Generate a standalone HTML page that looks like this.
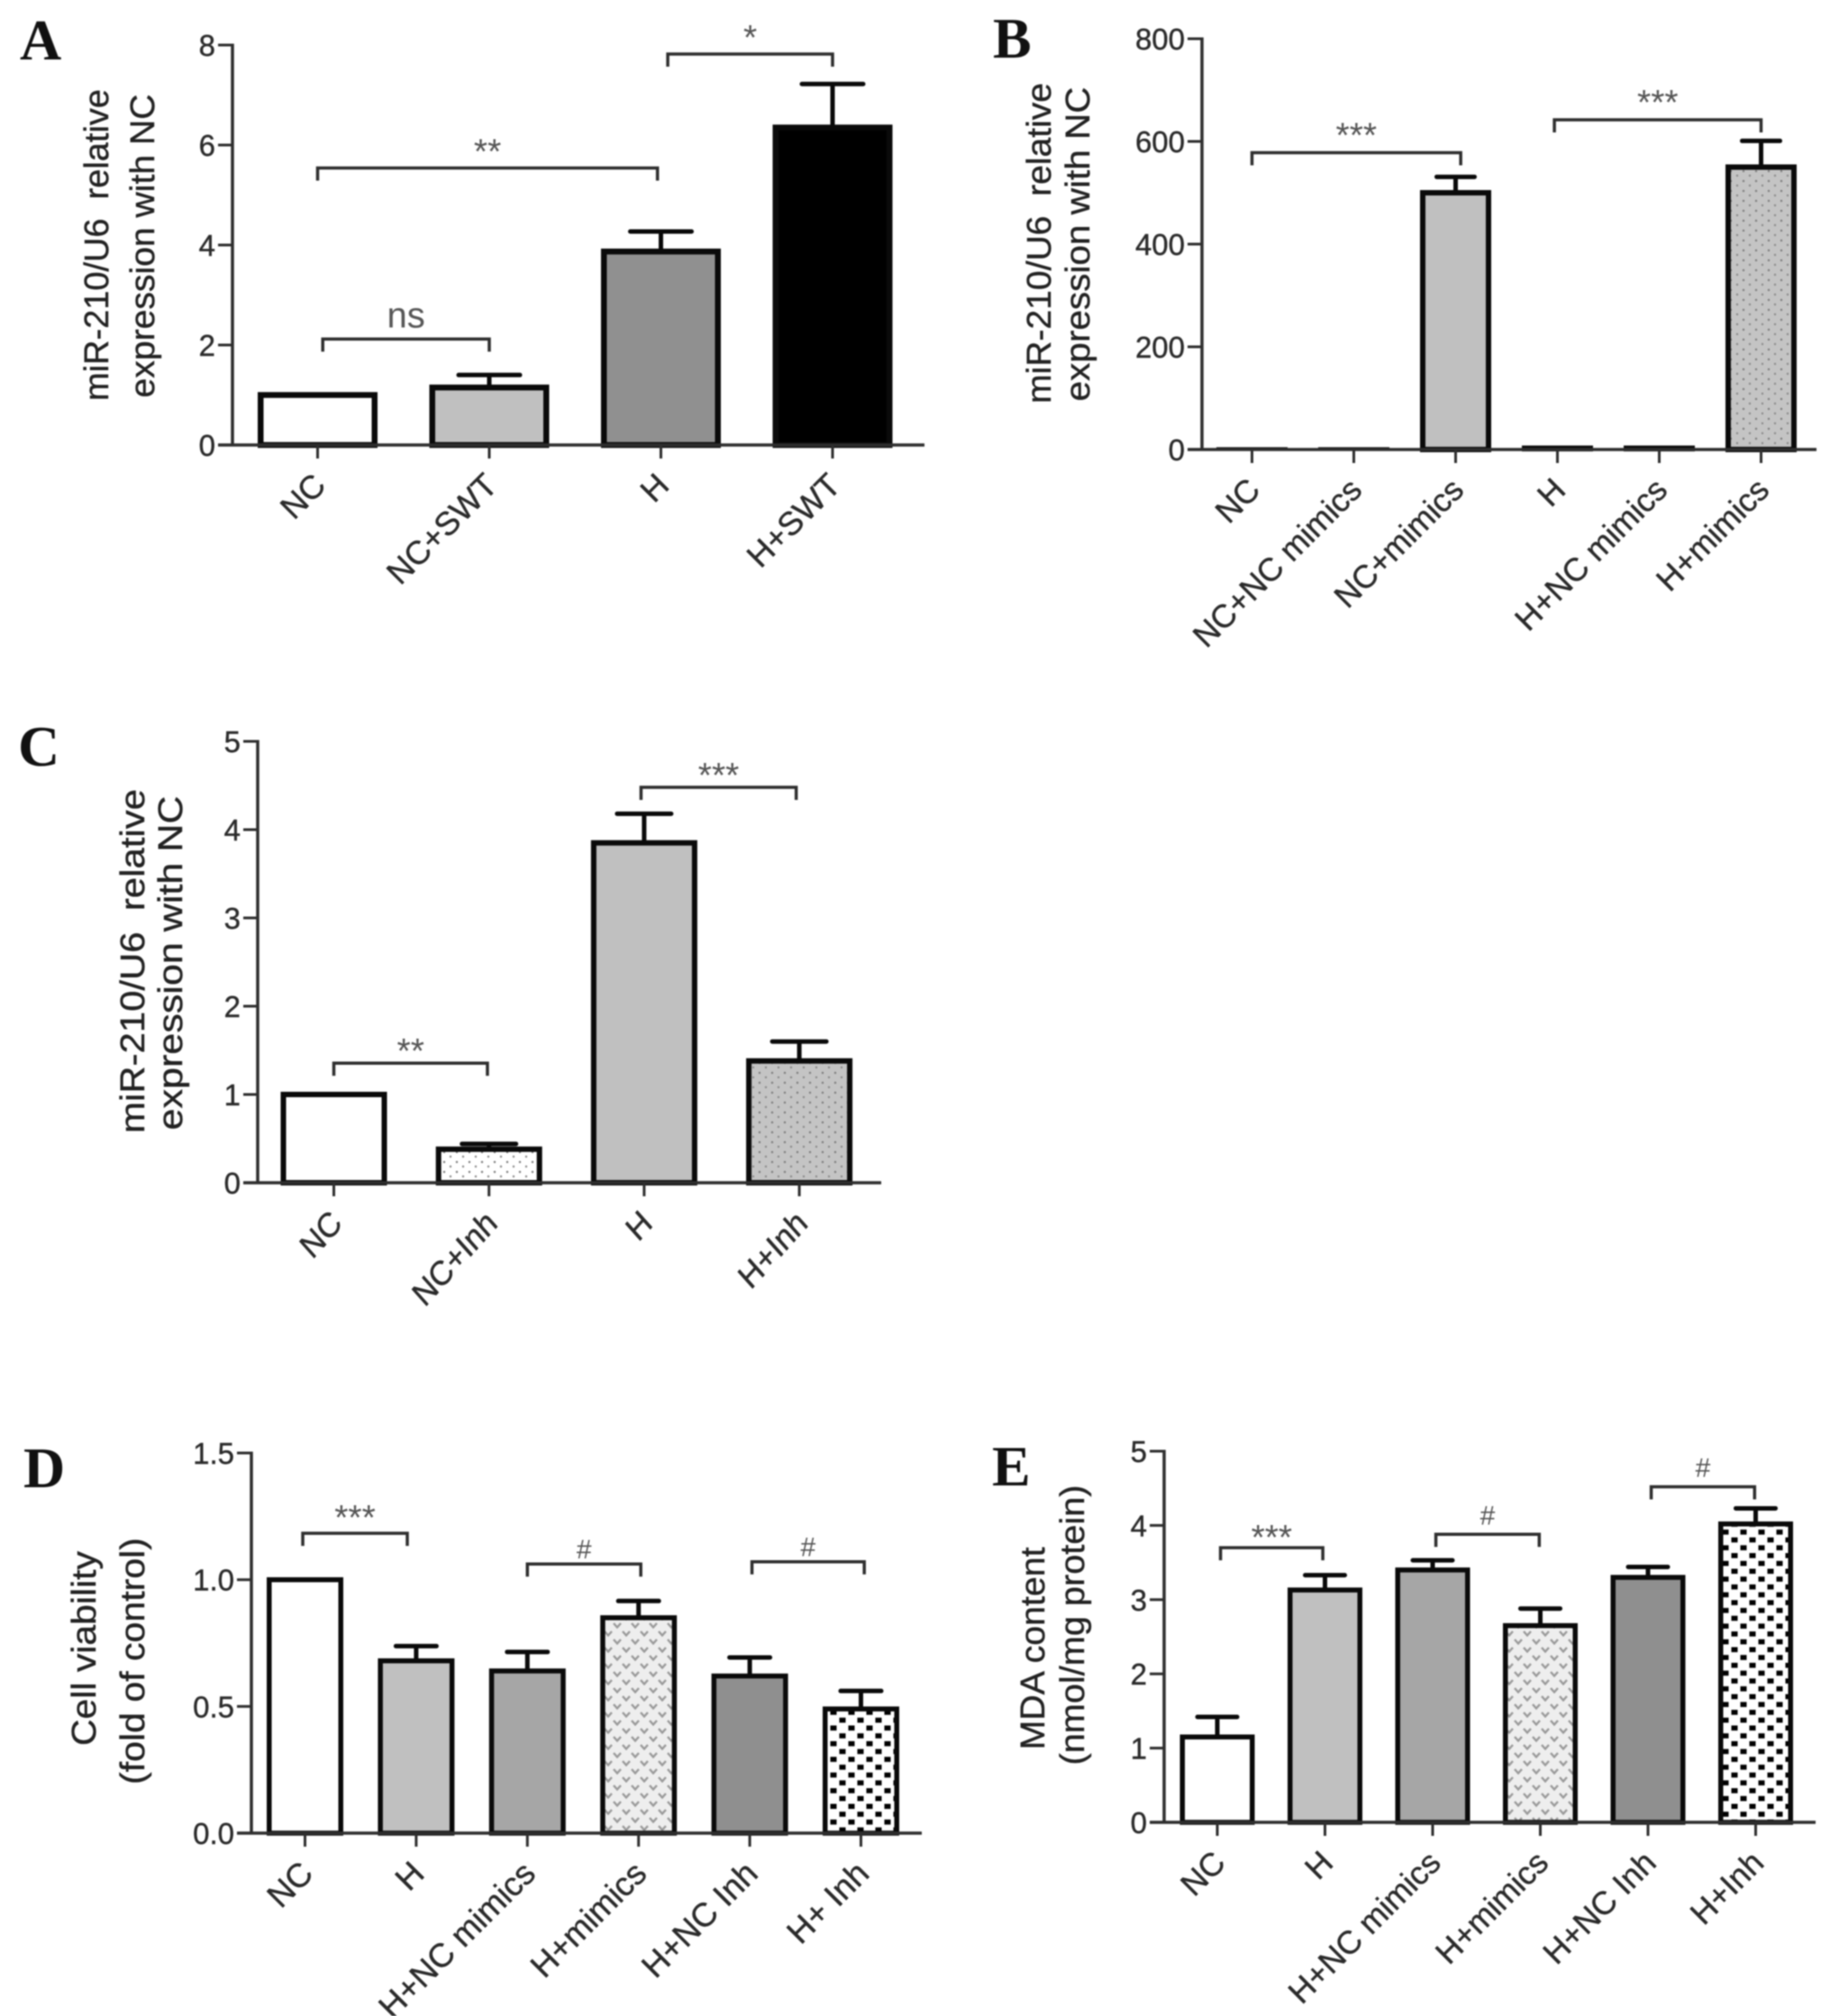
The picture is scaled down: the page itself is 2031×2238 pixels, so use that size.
<!DOCTYPE html>
<html lang="en">
<head>
<meta charset="utf-8">
<title>miR-210 expression, cell viability and MDA content bar charts</title>
<style>
html,body{margin:0;padding:0;background:#fff;}
#figure{display:block;width:2031px;height:2238px;filter:blur(0.7px);font-family:"Liberation Sans",sans-serif;}
.panel-letter{font-family:"Liberation Serif",serif;font-weight:bold;font-size:64px;fill:#111;}
.y-title{font-family:"Liberation Sans",sans-serif;font-size:38px;fill:#222;stroke:#222;stroke-width:0.4px;}
</style>
</head>
<body>
<svg id="figure" xmlns="http://www.w3.org/2000/svg" width="2031" height="2238" viewBox="0 0 2031 2238">
  <defs>
    <pattern id="dots-gray" width="14" height="11" patternUnits="userSpaceOnUse">
      <rect width="14" height="11" fill="#c4c4c4"/>
      <circle cx="3" cy="3" r="1.2" fill="#7a7a7a"/>
      <circle cx="10" cy="8" r="1.2" fill="#8a8a8a"/>
    </pattern>
    <pattern id="dots-white" width="14" height="11" patternUnits="userSpaceOnUse">
      <rect width="14" height="11" fill="#ffffff"/>
      <circle cx="3" cy="3" r="1.2" fill="#777"/>
      <circle cx="10" cy="8" r="1.2" fill="#888"/>
    </pattern>
    <pattern id="chevrons" width="20" height="18" patternUnits="userSpaceOnUse">
      <rect width="20" height="18" fill="#eeeeee"/>
      <path d="M1 2 L5 6.5 L9 2 M11 11 L15 15.5 L19 11" fill="none" stroke="#999" stroke-width="2.4"/>
    </pattern>
    <pattern id="checker" width="20" height="17.4" patternUnits="userSpaceOnUse">
      <rect width="20" height="17.4" fill="#fff"/>
      <rect x="1.5" y="1.5" width="7" height="5.6" fill="#000"/>
      <rect x="11.5" y="10.2" width="7" height="5.6" fill="#000"/>
    </pattern>
  </defs>

  <g id="panel-a">
    <text class="panel-letter" x="22" y="66">A</text>
    <text class="y-title" transform="translate(120,272) rotate(-90)" text-anchor="middle" textLength="346" lengthAdjust="spacingAndGlyphs" xml:space="preserve">miR-210/U6  relative</text>
    <text class="y-title" transform="translate(171,273) rotate(-90)" text-anchor="middle" textLength="337" lengthAdjust="spacingAndGlyphs">expression with NC</text>
  </g>
  <g id="panel-b">
    <text class="panel-letter" x="1102" y="64">B</text>
    <text class="y-title" transform="translate(1166,270) rotate(-90)" text-anchor="middle" textLength="356" lengthAdjust="spacingAndGlyphs" xml:space="preserve">miR-210/U6  relative</text>
    <text class="y-title" transform="translate(1209,271) rotate(-90)" text-anchor="middle" textLength="349" lengthAdjust="spacingAndGlyphs">expression with NC</text>
  </g>
  <g id="panel-c">
    <text class="panel-letter" x="20" y="850">C</text>
    <text class="y-title" transform="translate(160,1067) rotate(-90)" text-anchor="middle" textLength="382" lengthAdjust="spacingAndGlyphs" xml:space="preserve">miR-210/U6  relative</text>
    <text class="y-title" transform="translate(202,1069) rotate(-90)" text-anchor="middle" textLength="371" lengthAdjust="spacingAndGlyphs">expression with NC</text>
  </g>
  <g id="panel-d">
    <text class="panel-letter" x="26" y="1651">D</text>
    <text class="y-title" transform="translate(106,1830) rotate(-90)" text-anchor="middle" textLength="216" lengthAdjust="spacingAndGlyphs">Cell viability</text>
    <text class="y-title" transform="translate(160,1844) rotate(-90)" text-anchor="middle" textLength="274" lengthAdjust="spacingAndGlyphs">(fold of control)</text>
  </g>
  <g id="panel-e">
    <text class="panel-letter" x="1101" y="1649">E</text>
    <text class="y-title" transform="translate(1159,1830) rotate(-90)" text-anchor="middle" textLength="225" lengthAdjust="spacingAndGlyphs">MDA content</text>
    <text class="y-title" transform="translate(1203,1804) rotate(-90)" text-anchor="middle" textLength="311" lengthAdjust="spacingAndGlyphs">(nmol/mg protein)</text>
  </g>
</svg>

<script>
// ---- Panel A data ----
const aCategories = ['NC', 'NC+SWT', 'H', 'H+SWT'];
const aValues = [1, 1.15, 3.87, 6.35];
const aErrorTops = [1, 1.4, 4.27, 7.22];
const aYTicks = ['0', '2', '4', '6', '8'];
const aBracketFrom = [0.03, 0, 2.04];
const aBracketTo = [1, 1.98, 3];
const aBracketLevels = [2.12, 5.54, 7.82];
const aBracketLabels = ['ns', '**', '*'];

// ---- Panel B data ----
const bCategories = ['NC', 'NC+NC mimics', 'NC+mimics', 'H', 'H+NC mimics', 'H+mimics'];
const bValues = [2, 2, 500, 4, 4, 550];
const bErrorTops = [2, 2, 531, 4, 4, 601];
const bYTicks = ['0', '200', '400', '600', '800'];
const bBracketFrom = [0, 2.97];
const bBracketTo = [2.05, 5];
const bBracketLevels = [578, 642];
const bBracketLabels = ['***', '***'];

// ---- Panel C data ----
const cCategories = ['NC', 'NC+Inh', 'H', 'H+Inh'];
const cValues = [1, 0.38, 3.85, 1.38];
const cErrorTops = [1, 0.44, 4.18, 1.6];
const cYTicks = ['0', '1', '2', '3', '4', '5'];
const cBracketFrom = [0, 1.98];
const cBracketTo = [0.99, 2.98];
const cBracketLevels = [1.355, 4.48];
const cBracketLabels = ['**', '***'];

// ---- Panel D data ----
const dCategories = ['NC', 'H', 'H+NC mimics', 'H+mimics', 'H+NC Inh', 'H+ Inh'];
const dValues = [1, 0.68, 0.64, 0.85, 0.62, 0.49];
const dErrorTops = [1, 0.738, 0.715, 0.916, 0.693, 0.561];
const dYTicks = ['0.0', '0.5', '1.0', '1.5'];
const dBracketFrom = [-0.02, 2, 4.02];
const dBracketTo = [0.92, 3.02, 5.03];
const dBracketLevels = [1.183, 1.062, 1.071];
const dBracketLabels = ['***', '#', '#'];

// ---- Panel E data ----
const eCategories = ['NC', 'H', 'H+NC mimics', 'H+mimics', 'H+NC Inh', 'H+Inh'];
const eValues = [1.15, 3.13, 3.4, 2.65, 3.3, 4.02];
const eErrorTops = [1.42, 3.33, 3.53, 2.88, 3.44, 4.23];
const eYTicks = ['0', '1', '2', '3', '4', '5'];
const eBracketFrom = [0.03, 2.03, 4.03];
const eBracketTo = [0.98, 2.99, 4.99];
const eBracketLevels = [3.7, 3.88, 4.52];
const eBracketLabels = ['***', '#', '#'];

const SVGNS = 'http://www.w3.org/2000/svg';

function make(parent, tag, attrs, text) {
  const el = document.createElementNS(SVGNS, tag);
  for (const k in attrs) el.setAttribute(k, attrs[k]);
  if (text !== undefined) el.textContent = text;
  parent.appendChild(el);
  return el;
}

function drawPanel(p) {
  const root = document.getElementById(p.id);
  const yMax = parseFloat(p.yTicks[p.yTicks.length - 1]);
  const yScale = v => p.y0 - (v / yMax) * (p.y0 - p.yTop);
  const xScale = i => p.x0 + i * p.step;
  const AXIS = '#2e2e2e';
  const INK = '#2a2a2a';

  // error bars (drawn first so the bar outline sits over the stem)
  p.errorTops.forEach((top, i) => {
    if (top <= p.values[i]) return;
    const cx = xScale(i);
    const stem = make(root, 'line', {x1: cx, x2: cx, y1: yScale(p.values[i]), y2: yScale(top), stroke: '#0a0a0a', 'stroke-width': 5});
    
    
    const cap = make(root, 'line', {x1: cx - p.cap / 2, x2: cx + p.cap / 2, y1: yScale(top), y2: yScale(top), stroke: '#0a0a0a', 'stroke-width': 5, 'stroke-linecap': 'round'});
    
    
  });

  // bars
  p.values.forEach((v, i) => {
    const cx = xScale(i);
    const h = Math.max(0, p.y0 - yScale(v));
    const sw = Math.min(p.barStroke, 1.5 + h * 1.2);
    const bar = make(root, 'rect', {
      x: cx - p.barWidth / 2 + sw / 2,
      y: yScale(v),
      width: p.barWidth - sw,
      height: h,
      fill: p.fills[i],
      stroke: '#0a0a0a',
      'stroke-width': sw
    });
    
    
  });

  // y axis
  const yAxis = make(root, 'line', {x1: p.x, x2: p.x, y1: p.yTop - 1.5, y2: p.y0 + 1.5, stroke: AXIS, 'stroke-width': 3.5});
  
  
  p.yTicks.forEach(label => {
    const y = yScale(parseFloat(label));
    const tick = make(root, 'line', {x1: p.x - 16, x2: p.x, y1: y, y2: y, stroke: AXIS, 'stroke-width': 3});
    
    
    const t = make(root, 'text', {x: p.x - 19, y: y + 12, 'text-anchor': 'end', 'font-size': 33, fill: INK, stroke: INK, 'stroke-width': 0.4}, label);
    
    
  });

  // x axis
  const xAxis = make(root, 'line', {x1: p.x - 16, x2: p.xEnd, y1: p.y0, y2: p.y0, stroke: AXIS, 'stroke-width': 3.5});
  
  
  p.categories.forEach((c, i) => {
    const cx = xScale(i);
    const tick = make(root, 'line', {x1: cx, x2: cx, y1: p.y0, y2: p.y0 + 15, stroke: AXIS, 'stroke-width': 3});
    
    
    const lx = cx + 11, ly = p.y0 + 47;
    const attrs = {
      transform: 'translate(' + lx + ',' + ly + ') scale(1,' + (p.tickStretch || 1) + ') rotate(-45)',
      'text-anchor': 'end', 'font-size': p.tickFont, fill: INK, stroke: INK, 'stroke-width': 0.4
    };
    const t = make(root, 'text', attrs, c);
    
    
  });

  // significance brackets
  p.bracketLabels.forEach((label, i) => {
    const x1 = xScale(p.bracketFrom[i]);
    const x2 = xScale(p.bracketTo[i]);
    const y = yScale(p.bracketLevels[i]);
    const bracket = make(root, 'path', {d: 'M' + x1 + ' ' + (y + 14) + ' V' + y + ' H' + x2 + ' V' + (y + 14), fill: 'none', stroke: '#2e2e2e', 'stroke-width': 3.5});
    
    
    const mid = (x1 + x2) / 2;
    let size, by;
    if (label === 'ns') { size = 40; by = y - 13; }
    else if (label === '#') { size = 30; by = y - p.hashGap + 10; }
    else { size = 39; by = y - p.starGap + 22; }
    const t = make(root, 'text', {x: mid, y: by, 'text-anchor': 'middle', 'font-size': size, fill: '#555'}, label);
    
    
  });
}

drawPanel({
  id: 'panel-a', x: 258, xEnd: 1026, y0: 494, yTop: 50, x0: 352.5, step: 190.5,
  barWidth: 133, barStroke: 6.5, cap: 68, tickFont: 36.5, starGap: 27, hashGap: 18,
  categories: aCategories, values: aValues, errorTops: aErrorTops, yTicks: aYTicks,
  bracketFrom: aBracketFrom, bracketTo: aBracketTo, bracketLevels: aBracketLevels, bracketLabels: aBracketLabels,
  fills: ['#ffffff', '#c0c0c0', '#909090', '#000000']
});
drawPanel({
  id: 'panel-b', x: 1334, xEnd: 2016, y0: 499, yTop: 43, x0: 1389.5, step: 113,
  barWidth: 79, barStroke: 6, cap: 42, tickFont: 36, starGap: 28, hashGap: 18,
  categories: bCategories, values: bValues, errorTops: bErrorTops, yTicks: bYTicks,
  bracketFrom: bBracketFrom, bracketTo: bBracketTo, bracketLevels: bBracketLevels, bracketLabels: bBracketLabels,
  fills: ['#ffffff', '#ffffff', '#c0c0c0', '#ffffff', '#ffffff', 'url(#dots-gray)']
});
drawPanel({
  id: 'panel-c', x: 286, xEnd: 978, y0: 1313, yTop: 823, x0: 370.5, step: 172.2,
  barWidth: 118, barStroke: 6, cap: 60, tickFont: 34, tickStretch: 1.12, starGap: 22, hashGap: 18,
  categories: cCategories, values: cValues, errorTops: cErrorTops, yTicks: cYTicks,
  bracketFrom: cBracketFrom, bracketTo: cBracketTo, bracketLevels: cBracketLevels, bracketLabels: cBracketLabels,
  fills: ['#ffffff', 'url(#dots-white)', '#c0c0c0', 'url(#dots-gray)']
});
drawPanel({
  id: 'panel-d', x: 279, xEnd: 1023, y0: 2035, yTop: 1613, x0: 338.5, step: 123.4,
  barWidth: 85, barStroke: 5.5, cap: 45, tickFont: 37, starGap: 26, hashGap: 16,
  categories: dCategories, values: dValues, errorTops: dErrorTops, yTicks: dYTicks,
  bracketFrom: dBracketFrom, bracketTo: dBracketTo, bracketLevels: dBracketLevels, bracketLabels: dBracketLabels,
  fills: ['#ffffff', '#c0c0c0', '#a6a6a6', 'url(#chevrons)', '#8f8f8f', 'url(#checker)']
});
drawPanel({
  id: 'panel-e', x: 1292, xEnd: 2015, y0: 2023, yTop: 1611, x0: 1351, step: 119.5,
  barWidth: 83, barStroke: 5.5, cap: 44, tickFont: 36, starGap: 20, hashGap: 21,
  categories: eCategories, values: eValues, errorTops: eErrorTops, yTicks: eYTicks,
  bracketFrom: eBracketFrom, bracketTo: eBracketTo, bracketLevels: eBracketLevels, bracketLabels: eBracketLabels,
  fills: ['#ffffff', '#c0c0c0', '#a6a6a6', 'url(#chevrons)', '#8f8f8f', 'url(#checker)']
});
</script>
</body>
</html>
